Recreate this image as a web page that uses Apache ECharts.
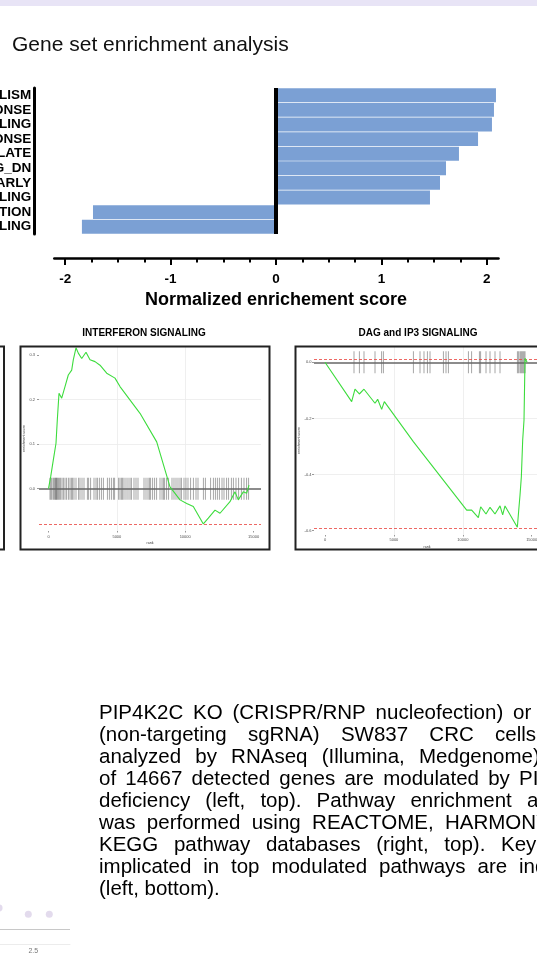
<!DOCTYPE html>
<html><head><meta charset="utf-8">
<script src="https://cdn.jsdelivr.net/npm/echarts@6/dist/echarts.min.js"></script>
<style>html,body{margin:0;padding:0;background:#fff;overflow:hidden}#c{width:537px;height:973px}</style>
</head><body><div id="c"></div>
<script>
// ---- Bar chart (normalized enrichment score) ----
const categories = ['XENOBIOTIC_METABOLISM', 'INTERFERON_ALPHA_RESPONSE', 'INTERFERON_SIGNALING', 'INTERFERON_GAMMA_RESPONSE', 'ESTROGEN_RESPONSE_LATE', 'KRAS_SIGNALING_DN', 'ESTROGEN_RESPONSE_EARLY', 'ANTIVIRAL_SIGNALING', 'MUSCLE_CONTRACTION', 'DAG_AND_IP3_SIGNALING'];
const nes = [2.087, 2.068, 2.049, 1.917, 1.736, 1.613, 1.556, 1.461, -1.736, -1.841];
const nesTicks = [-2, -1, 0, 1, 2];

// ---- GSEA: INTERFERON SIGNALING ----
const ifnRank = [0, 161, 351, 549, 644, 768, 965, 1207, 1448, 1697, 1814, 2012, 2180, 2429, 2743, 3036, 3402, 3767, 4257, 4865, 5230, 6694, 7915, 8888, 9620, 10110, 10593, 11326, 11690, 12180, 12546, 13277, 13643, 13884, 14250, 14499, 14667];
const ifnES = [0, 0.027, 0.064, 0.102, 0.154, 0.214, 0.203, 0.229, 0.255, 0.266, 0.289, 0.316, 0.304, 0.292, 0.306, 0.289, 0.285, 0.277, 0.259, 0.248, 0.229, 0.169, 0.105, 0.004, -0.025, -0.033, -0.040, -0.079, -0.066, -0.048, -0.055, -0.029, -0.007, -0.025, -0.007, -0.010, 0.008];
const ifnHits = [110, 183, 256, 354, 427, 500, 549, 597, 646, 719, 792, 890, 988, 1085, 1207, 1329, 1451, 1573, 1670, 1768, 1865, 2012, 2207, 2304, 2451, 2597, 2841, 2938, 3085, 3328, 3475, 3572, 3718, 3865, 4011, 4304, 4450, 4596, 4743, 4840, 5133, 5230, 5328, 5425, 5523, 5669, 5815, 5962, 6059, 6254, 6401, 6547, 6986, 7132, 7278, 7376, 7473, 7620, 7766, 7913, 8156, 8303, 8400, 8498, 8644, 8790, 9034, 9180, 9327, 9473, 9619, 9717, 9912, 10058, 10204, 10400, 10595, 10790, 10936, 11326, 11472, 11863, 12058, 12204, 12350, 12497, 12692, 12838, 13033, 13179, 13374, 13521, 13716, 13911, 14106, 14301, 14496, 14642];
const ifnXTicks = [0, 5000, 10000, 15000];
const ifnYTicks = [0, 0.1, 0.2, 0.3];

// ---- GSEA: DAG and IP3 SIGNALING ----
const dagRank = [0, 1935, 2177, 2491, 2830, 3629, 3822, 4112, 4306, 6410, 10281, 10644, 11127, 11297, 11684, 11974, 12337, 12700, 12894, 13063, 13958, 14055, 14152, 14249, 14346, 14442, 14515, 14667];
const dagES = [0, -0.140, -0.096, -0.113, -0.096, -0.146, -0.132, -0.168, -0.140, -0.283, -0.527, -0.527, -0.554, -0.515, -0.541, -0.517, -0.541, -0.512, -0.544, -0.512, -0.588, -0.529, -0.473, -0.408, -0.277, -0.206, 0.014, 0.000];
const dagHits = [2105, 2491, 2830, 3629, 4112, 4233, 6410, 6894, 7184, 7426, 7620, 8587, 8781, 8950, 10402, 10644, 11200, 11297, 11684, 11974, 12337, 12700, 13958, 14055, 14152, 14225, 14297, 14370, 14442, 14515];
const dagXTicks = [0, 5000, 10000, 15000];
const dagYTicks = [-0.6, -0.4, -0.2, 0];

// ---- partial dot plot (bottom left) ----
const blX = [1.43, 2.344, 3.0];
const blY = [0.612, 0.506, 0.506];
const blTicks = [2.5];
const blRef = 0.253;

const FONT = '"Liberation Sans", Arial, Helvetica, sans-serif';
const chart = echarts.init(document.getElementById('c'), null, {renderer: 'canvas', width: 537, height: 973});

const gridLine = {show: true, showMinLine: false, showMaxLine: false, lineStyle: {color: '#ebebeb', width: 0.8}};
const tinyLabel = {fontSize: 4, color: '#4d4d4d'};

function gseaX(gi, min, max, ticks, margin) {
  return {gridIndex: gi, type: 'value', min: min, max: max, minInterval: 5000, maxInterval: 5000,
    axisLine: {show: false, onZero: false},
    axisTick: {show: true, customValues: ticks, length: 1.5, lineStyle: {color: '#333', width: 0.5}},
    axisLabel: Object.assign({customValues: ticks, margin: margin, formatter: v => String(Math.round(v))}, tinyLabel),
    splitLine: gridLine,
    name: 'rank', nameLocation: 'middle', nameGap: 10, nameTextStyle: {fontSize: 3.5, color: '#333'}};
}
function gseaY(gi, min, max, ticks, margin, nameGap, step) {
  return {gridIndex: gi, type: 'value', min: min, max: max, minInterval: step, maxInterval: step,
    axisLine: {show: false, onZero: false},
    axisTick: {show: true, customValues: ticks, length: 2, lineStyle: {color: '#333', width: 0.5}},
    axisLabel: Object.assign({customValues: ticks, margin: margin, formatter: v => Number(v).toFixed(1)}, tinyLabel),
    splitLine: gridLine,
    name: 'enrichment score', nameLocation: 'middle', nameGap: nameGap, nameTextStyle: {fontSize: 3.5, color: '#333'}};
}
function gseaSeries(ai, ranks, es, hits) {
  return [
    {type: 'scatter', xAxisIndex: ai, yAxisIndex: ai, data: hits.map(r => [r, 0]), symbol: 'rect', symbolSize: [0.8, 22],
      itemStyle: {color: 'rgba(0,0,0,0.55)'}, silent: true, z: 3},
    {type: 'line', xAxisIndex: ai, yAxisIndex: ai, data: ranks.map((r, i) => [r, es[i]]), showSymbol: false, symbol: 'none',
      lineStyle: {color: '#3ddc3d', width: 1.1}, silent: true, z: 5,
      markLine: {silent: true, symbol: 'none', label: {show: false}, animation: false,
        data: [
          {yAxis: 0, lineStyle: {color: '#666', width: 1.6, type: 'solid'}},
          {yAxis: Math.max(...es), lineStyle: {color: '#e8413c', width: 0.8, type: [3, 2]}},
          {yAxis: Math.min(...es), lineStyle: {color: '#e8413c', width: 0.8, type: [3, 2]}}
        ]}}
  ];
}

// ---- graphic: decorations and text ----
const graphics = [];
graphics.push({type: 'rect', shape: {x: 0, y: 0, width: 537, height: 6}, style: {fill: '#e8e4f6'}, silent: true});
function txt(s, x, y, font, align, color) {
  return {type: 'text', x: x, y: y, silent: true,
    style: {text: s, font: font, fill: color || '#000', align: align || 'left', verticalAlign: 'middle', textAlign: align || 'left', textVerticalAlign: 'middle'}};
}
graphics.push(txt('Gene set enrichment analysis', 12, 45.5, '21px ' + FONT, 'left', '#111'));
graphics.push(txt('INTERFERON SIGNALING', 144, 333, 'bold 10px ' + FONT, 'center'));
graphics.push(txt('DAG and IP3 SIGNALING', 418, 333, 'bold 10px ' + FONT, 'center'));
[[-250, 254], [20.5, 249], [295.5, 260]].forEach(b => {
  graphics.push({type: 'rect', shape: {x: b[0], y: 346.5, width: b[1], height: 203}, style: {fill: 'none', stroke: '#222', lineWidth: 2}, silent: true, z: 100});
});

const BODY_FONT = '20.5px ' + FONT;
const ctx = document.createElement('canvas').getContext('2d');
ctx.font = BODY_FONT;
const bodyLines = [
  {words: ['PIP4K2C', 'KO', '(CRISPR/RNP', 'nucleofection)', 'or'], lastX: 513},
  {words: ['(non-targeting', 'sgRNA)', 'SW837', 'CRC', 'cells'], lastX: 495},
  {words: ['analyzed', 'by', 'RNAseq', '(Illumina,', 'Medgenome)'], lastX: 419},
  {words: ['of', '14667', 'detected', 'genes', 'are', 'modulated', 'by', 'PIP4K2C'], lastX: 519},
  {words: ['deficiency', '(left,', 'top).', 'Pathway', 'enrichment', 'analysis'], lastX: 527},
  {words: ['was', 'performed', 'using', 'REACTOME,', 'HARMONY'], lastX: 445},
  {words: ['KEGG', 'pathway', 'databases', '(right,', 'top).', 'Key'], lastX: 501},
  {words: ['implicated', 'in', 'top', 'modulated', 'pathways', 'are', 'indicated'], lastX: 519},
  {words: ['(left, bottom).'], lastX: null}
];
const bodyLeft = 99, bodyTop = 713, bodyLH = 22.1;
bodyLines.forEach((ln, i) => {
  const y = bodyTop + i * bodyLH;
  const ws = ln.words;
  if (ws.length === 1 || ln.lastX == null) {
    graphics.push(txt(ws.join(' '), bodyLeft, y, BODY_FONT));
    return;
  }
  const widths = ws.map(w => ctx.measureText(w).width);
  const inner = widths.slice(0, -1).reduce((a, b) => a + b, 0);
  const gap = (ln.lastX - bodyLeft - inner) / (ws.length - 1);
  let x = bodyLeft;
  ws.forEach((w, j) => {
    graphics.push(txt(w, j === ws.length - 1 ? ln.lastX : x, y, BODY_FONT));
    x += widths[j] + gap;
  });
});

const option = {
  animation: false,
  backgroundColor: '#fff',
  textStyle: {fontFamily: FONT},
  grid: [
    {left: 54.3, width: 444.2, top: 88, height: 146, outerBoundsMode: 'none'},
    {left: 65.2, width: 421.6, top: 88, height: 146, outerBoundsMode: 'none'},
    {left: 39, width: 222, top: 346, height: 185, outerBoundsMode: 'none'},
    {left: 314, width: 226, top: 346, height: 189, outerBoundsMode: 'none'},
    {left: -46.7, width: 116.7, top: 885, height: 59.3, outerBoundsMode: 'none'}
  ],
  xAxis: [
    {gridIndex: 0, type: 'value', min: -2.103, max: 2.111, offset: 24,
      axisLine: {show: true, onZero: false, lineStyle: {color: '#000', width: 2.5}},
      axisTick: {show: false}, axisLabel: {show: false}, splitLine: {show: false}},
    {gridIndex: 1, type: 'value', min: nesTicks[0], max: nesTicks[nesTicks.length - 1], interval: 1, offset: 24,
      axisLine: {show: false, onZero: false},
      axisTick: {show: true, length: 7, lineStyle: {color: '#000', width: 2}},
      minorTick: {show: true, splitNumber: 4, length: 4.5, lineStyle: {color: '#000', width: 2}},
      axisLabel: {margin: 14, fontSize: 13.5, fontWeight: 'bold', color: '#000'},
      splitLine: {show: false}, minorSplitLine: {show: false},
      name: 'Normalized enrichement score', nameLocation: 'middle', nameGap: 33,
      nameTextStyle: {fontSize: 18, fontWeight: 'bold', color: '#000'}},
    gseaX(2, -695, 15545, ifnXTicks, 4),
    gseaX(3, -798, 15602, dagXTicks, 3),
    {gridIndex: 4, type: 'value', min: 0, max: 3.647, minInterval: 2.5, maxInterval: 2.5,
      axisLine: {show: true, onZero: false, lineStyle: {color: '#ececec', width: 1}},
      axisTick: {show: false},
      axisLabel: {customValues: blTicks, margin: 3, fontSize: 7, color: '#777', formatter: v => Number(v).toFixed(1)},
      splitLine: {show: false}}
  ],
  yAxis: [
    {gridIndex: 0, type: 'category', data: categories, inverse: true, offset: 20,
      axisLine: {show: true, onZero: false, lineStyle: {color: '#000', width: 3}},
      axisTick: {show: false},
      axisLabel: {interval: 0, margin: 3, fontSize: 13.5, fontWeight: 'bold', color: '#000'},
      splitLine: {show: false}},
    {gridIndex: 1, type: 'value', show: false},
    gseaY(2, -0.0948, 0.32, ifnYTicks, 4, 11, 0.1),
    gseaY(3, -0.6157, 0.0581, dagYTicks, 2.5, 10, 0.2),
    {gridIndex: 4, type: 'value', min: 0, max: 1, show: false}
  ],
  series: [
    {type: 'bar', xAxisIndex: 0, yAxisIndex: 0, data: nes, barCategoryGap: '5%', silent: true,
      itemStyle: {color: '#7ba0d4'},
      markLine: {silent: true, symbol: 'none', label: {show: false}, animation: false,
        lineStyle: {color: '#000', width: 4, type: 'solid'}, data: [{xAxis: 0}]}},
    ...gseaSeries(2, ifnRank, ifnES, ifnHits),
    ...gseaSeries(3, dagRank, dagES, dagHits),
    {type: 'scatter', xAxisIndex: 4, yAxisIndex: 4, data: blX.map((x, i) => [x, blY[i]]), symbolSize: 7, silent: true,
      itemStyle: {color: '#dcd2e8'},
      markLine: {silent: true, symbol: 'none', label: {show: false}, animation: false,
        lineStyle: {color: '#c8c8c8', width: 1, type: 'solid'}, data: [{yAxis: blRef}]}}
  ],
  graphic: graphics
};
chart.setOption(option);
</script>
</body></html>
